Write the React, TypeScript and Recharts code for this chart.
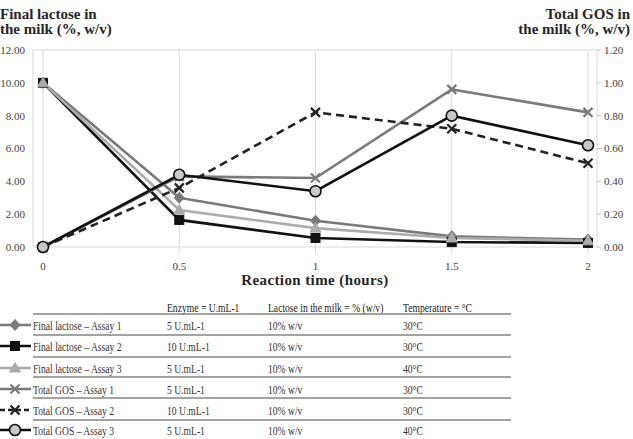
import { LineChart, Line, XAxis, YAxis, CartesianGrid } from "recharts";

// sampling times (hours)
const times = [0, 0.5, 1, 1.5, 2];

// final lactose in the milk, % w/v (left axis)
const lactoseAssay1 = [10, 3.0, 1.6, 0.65, 0.45];
const lactoseAssay2 = [10, 1.65, 0.55, 0.3, 0.25];
const lactoseAssay3 = [10, 2.25, 1.15, 0.55, 0.38];

// total GOS in the milk, % w/v (right axis)
const gosAssay1 = [0, 0.43, 0.42, 0.96, 0.82];
const gosAssay2 = [0, 0.36, 0.82, 0.72, 0.51];
const gosAssay3 = [0, 0.44, 0.34, 0.8, 0.62];

const leftTicks = [0, 2, 4, 6, 8, 10, 12];
const rightTicks = [0, 0.2, 0.4, 0.6, 0.8, 1.0, 1.2];

// assay conditions table
const seriesNames = [
  "Final lactose \u2013 Assay 1",
  "Final lactose \u2013 Assay 2",
  "Final lactose \u2013 Assay 3",
  "Total GOS \u2013 Assay 1",
  "Total GOS \u2013 Assay 2",
  "Total GOS \u2013 Assay 3",
];
const enzymeDoses = ["5 U.mL-1", "10 U.mL-1", "5 U.mL-1", "5 U.mL-1", "10 U.mL-1", "5 U.mL-1"];
const lactoseLevels = ["10% w/v", "10% w/v", "10% w/v", "10% w/v", "10% w/v", "10% w/v"];
const temperatures = ["30\u00b0C", "30\u00b0C", "40\u00b0C", "30\u00b0C", "30\u00b0C", "40\u00b0C"];
const tableHeaders = ["Enzyme = U.mL-1", "Lactose in the milk = % (w/v)", "Temperature = \u00b0C"];

const chartData = times.map((t, i) => ({
  t,
  lac1: lactoseAssay1[i],
  lac2: lactoseAssay2[i],
  lac3: lactoseAssay3[i],
  gos1: gosAssay1[i],
  gos2: gosAssay2[i],
  gos3: gosAssay3[i],
}));

const SERIF = '"Liberation Serif", "Times New Roman", serif';
const MID_GRAY = "#7a7a7a";
const LIGHT_GRAY = "#ababab";
const INK = "#111111";

type Marker = "diamond" | "square" | "triangle" | "cross" | "circle";

function MarkerShape({ kind, cx, cy, color }: { kind: Marker; cx: number; cy: number; color: string }) {
  switch (kind) {
    case "diamond":
      return <polygon points={`${cx},${cy - 5.5} ${cx + 5},${cy} ${cx},${cy + 5.5} ${cx - 5},${cy}`} fill={color} stroke={color} strokeWidth={1} />;
    case "square":
      return <rect x={cx - 4.5} y={cy - 4.5} width={9} height={9} fill={color} stroke={color} />;
    case "triangle":
      return <polygon points={`${cx},${cy - 5.5} ${cx + 5.5},${cy + 4} ${cx - 5.5},${cy + 4}`} fill={color} stroke={color} />;
    case "cross":
      return (
        <g stroke={color} strokeWidth={2.2}>
          <line x1={cx - 4.5} y1={cy - 4.5} x2={cx + 4.5} y2={cy + 4.5} />
          <line x1={cx - 4.5} y1={cy + 4.5} x2={cx + 4.5} y2={cy - 4.5} />
        </g>
      );
    default:
      return <circle cx={cx} cy={cy} r={5.5} fill="#c9c9c9" stroke={color} strokeWidth={1.6} />;
  }
}

const seriesStyles: { key: string; axis: string; color: string; marker: Marker; dash?: string }[] = [
  { key: "lac1", axis: "left", color: MID_GRAY, marker: "diamond" },
  { key: "lac2", axis: "left", color: INK, marker: "square" },
  { key: "lac3", axis: "left", color: LIGHT_GRAY, marker: "triangle" },
  { key: "gos1", axis: "right", color: MID_GRAY, marker: "cross" },
  { key: "gos2", axis: "right", color: "#222222", marker: "cross", dash: "8 5" },
  { key: "gos3", axis: "right", color: INK, marker: "circle" },
];

const tickStyle = { fontFamily: SERIF, fontSize: 11, fill: "#404040" };
const titleStyle = { fontFamily: SERIF, fontSize: 15, fontWeight: 700, color: "#262626", lineHeight: "15px", position: "absolute" as const };

// table text is set in a narrow face, so squeeze it horizontally
function NarrowText({ x, y, children, fill = "#333333" }: { x: number; y: number; children: string; fill?: string }) {
  return (
    <text transform={`translate(${x},${y}) scale(0.74,1)`} fontFamily={SERIF} fontSize={13} fill={fill}>
      {children}
    </text>
  );
}

function ConditionsTable() {
  const rowY = [35, 56, 78, 99, 120, 140];
  const lineY = [24, 45, 67, 87, 108, 130];
  const colX = [167, 268, 403];
  return (
    <svg width={633} height={149} style={{ position: "absolute", left: 0, top: 290 }}>
      {tableHeaders.map((h, i) => (
        <NarrowText key={h} x={colX[i]} y={22} fill="#1a1a1a">
          {h}
        </NarrowText>
      ))}
      {lineY.map((y) => (
        <line key={y} x1={33} x2={511} y1={y} y2={y} stroke="#858585" strokeWidth={1.3} />
      ))}
      {seriesStyles.map((s, i) => (
        <g key={s.key}>
          <line x1={0} x2={31} y1={rowY[i]} y2={rowY[i]} stroke={s.color} strokeWidth={2.5} strokeDasharray={s.dash ? "5 3" : undefined} />
          <MarkerShape kind={s.marker} cx={15} cy={rowY[i]} color={s.color} />
          <NarrowText x={33} y={rowY[i] + 4.5}>{seriesNames[i]}</NarrowText>
          <NarrowText x={colX[0]} y={rowY[i] + 4.5}>{enzymeDoses[i]}</NarrowText>
          <NarrowText x={colX[1]} y={rowY[i] + 4.5}>{lactoseLevels[i]}</NarrowText>
          <NarrowText x={colX[2]} y={rowY[i] + 4.5}>{temperatures[i]}</NarrowText>
        </g>
      ))}
    </svg>
  );
}

export default function App() {
  return (
    <div style={{ position: "absolute", left: 0, top: 0, width: 633, height: 439, background: "#fff", overflow: "hidden" }}>
      <div style={{ ...titleStyle, left: 0, top: 7 }}>
        Final lactose in
        <br />
        the milk (%, w/v)
      </div>
      <div style={{ ...titleStyle, right: 3, top: 7, textAlign: "right" }}>
        Total GOS in
        <br />
        the milk (%, w/v)
      </div>
      <div style={{ ...titleStyle, left: 0, width: 630, top: 273, textAlign: "center", letterSpacing: 0.4 }}>
        Reaction time (hours)
      </div>
      <LineChart width={633} height={290} data={chartData} margin={{ top: 50, right: 0, bottom: 23, left: 0 }}>
        <CartesianGrid stroke="#d9d9d9" strokeWidth={1} />
        <XAxis
          dataKey="t"
          type="number"
          domain={[0, 2]}
          ticks={times}
          padding={{ left: 10, right: 9 }}
          height={20}
          axisLine={false}
          tickLine={{ stroke: "#d9d9d9" }}
          tickSize={7}
          tickMargin={8}
          tick={tickStyle}
          tickFormatter={(v: number) => String(v)}
        />
        <YAxis
          yAxisId="left"
          domain={[0, 12]}
          ticks={leftTicks}
          width={33}
          axisLine={false}
          tickLine={false}
          tick={tickStyle}
          tickFormatter={(v: number) => v.toFixed(2)}
        />
        <YAxis
          yAxisId="right"
          orientation="right"
          domain={[0, 1.2]}
          ticks={rightTicks}
          width={36}
          axisLine={false}
          tickLine={{ stroke: "#bfbfbf" }}
          tickSize={4}
          tickMargin={3}
          tick={tickStyle}
          tickFormatter={(v: number) => v.toFixed(2)}
        />
        {seriesStyles.map((s) => (
          <Line
            key={s.key}
            yAxisId={s.axis}
            dataKey={s.key}
            stroke={s.color}
            strokeWidth={2.6}
            strokeDasharray={s.dash}
            isAnimationActive={false}
            dot={(p: { cx?: number; cy?: number; index?: number }) => (
              <MarkerShape key={`${s.key}-${p.index}`} kind={s.marker} cx={p.cx ?? 0} cy={p.cy ?? 0} color={s.color} />
            )}
            activeDot={false}
          />
        ))}
      </LineChart>
      <ConditionsTable />
    </div>
  );
}
